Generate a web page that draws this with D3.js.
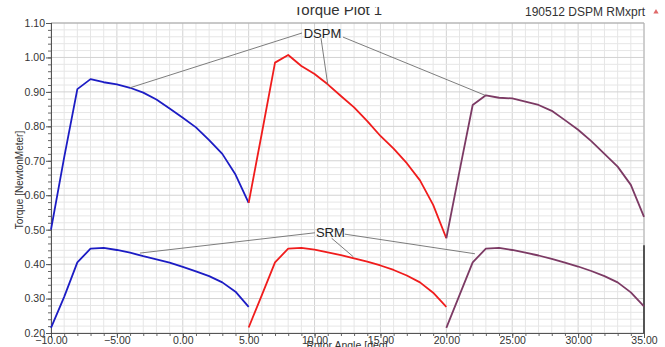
<!DOCTYPE html>
<html>
<head>
<meta charset="utf-8">
<script src="https://cdn.jsdelivr.net/npm/d3@7"></script>
<style>
  body { margin: 0; background: #fff; }
  svg { font-family: "Liberation Sans", Arial, sans-serif; }
</style>
</head>
<body>
<svg id="torque_plot" width="665" height="347"></svg>
<script>
// rotor angle for each of the three phases
const anglesA = [-10,-9,-8,-7,-6,-5,-4,-3,-2,-1,0,1,2,3,4,5];
const anglesB = [5,6,7,8,9,10,11,12,13,14,15,16,17,18,19,20];
const anglesC = [20,21,22,23,24,25,26,27,28,29,30,31,32,33,34,35];

// DSPM torque
const dspmA = [0.50,0.71,0.908,0.937,0.928,0.922,0.912,0.898,0.878,0.852,0.825,0.797,0.760,0.720,0.660,0.578];
const dspmB = [0.578,0.780,0.985,1.007,0.975,0.952,0.922,0.888,0.855,0.815,0.772,0.735,0.693,0.643,0.572,0.475];
const dspmC = [0.475,0.670,0.862,0.890,0.883,0.881,0.872,0.862,0.845,0.818,0.790,0.757,0.720,0.683,0.630,0.537];

// SRM torque
const srmA = [0.215,0.305,0.405,0.445,0.447,0.441,0.433,0.423,0.414,0.404,0.392,0.379,0.365,0.347,0.320,0.276];
const srmB = [0.216,0.310,0.405,0.445,0.447,0.442,0.434,0.426,0.417,0.407,0.396,0.383,0.367,0.347,0.317,0.276];
const srmC = [0.215,0.310,0.405,0.445,0.447,0.441,0.433,0.425,0.415,0.404,0.393,0.380,0.365,0.347,0.318,0.277];

const phaseColors = ["#1c1cc4", "#f01c1c", "#7c3a64"];

const xTicks = [-10,-5,0,5,10,15,20,25,30,35];
const yTicks = [0.2,0.3,0.4,0.5,0.6,0.7,0.8,0.9,1.0,1.1];

// annotation labels and leader lines, [angle, torque]
const dspmLabel = [10.6, 1.071];
const dspmFrom = [[9.05,1.071],[10.49,1.056],[12.16,1.059]];
const dspmTo = [[-4.0,0.912],[11.0,0.922],[22.95,0.890]];
const srmLabel = [11.2, 0.491];
const srmFrom = [[10.03,0.491],[11.3,0.475],[12.3,0.487]];
const srmTo = [[-3.25,0.432],[12.95,0.421],[22.17,0.43]];

function Draw_torque_plot(){
    const svg = d3.select("#torque_plot");
    const left = 51, right = 644, top = 23, bottom = 333;

    const x = d3.scaleLinear().domain([-10, 35]).range([left, right]);
    const y = d3.scaleLinear().domain([0.2, 1.1]).range([bottom, top]);

    // grid
    const grid = svg.append("g");
    const minorX = x.ticks(45), minorY = y.ticks(45);
    grid.selectAll(".gx").data(minorX).enter().append("line")
        .attr("x1", d => x(d)).attr("x2", d => x(d))
        .attr("y1", top).attr("y2", bottom)
        .attr("stroke", d => (Math.abs(d % 5) < 1e-6) ? "#d2d2d2" : "#e6e6e6");
    grid.selectAll(".gy").data(minorY).enter().append("line")
        .attr("x1", left).attr("x2", right)
        .attr("y1", d => y(d)).attr("y2", d => y(d))
        .attr("stroke", d => (Math.abs(Math.round(d * 10) - d * 10) < 1e-6) ? "#d2d2d2" : "#e6e6e6");

    // frame top / right
    svg.append("line").attr("x1", left).attr("x2", right).attr("y1", top).attr("y2", top)
        .attr("stroke", "#a8a8a8");
    svg.append("line").attr("x1", right).attr("x2", right).attr("y1", top).attr("y2", bottom)
        .attr("stroke", "#b4b4b4");
    svg.append("line").attr("x1", x(35)).attr("x2", x(35)).attr("y1", y(0.455)).attr("y2", bottom)
        .attr("stroke", "#222").attr("stroke-width", 1.4);

    // axes
    const axisX = svg.append("g").attr("transform", `translate(0,${bottom})`);
    axisX.call(d3.axisBottom(x).tickValues(minorX).tickSize(3).tickFormat(""));
    axisX.call(g => g.selectAll(".tick line").attr("stroke", "#666"));
    const axisXMajor = svg.append("g").attr("transform", `translate(0,${bottom})`)
        .call(d3.axisBottom(x).tickValues(xTicks).tickSize(5).tickPadding(-1).tickFormat(d3.format(".2f")));
    axisXMajor.select(".domain").attr("stroke", "#555");
    axisXMajor.selectAll(".tick line").attr("stroke", "#555");
    axisXMajor.selectAll("text").attr("font-size", 10.5).attr("fill", "#333")
        .attr("font-family", "Liberation Sans, Arial, sans-serif");

    const axisY = svg.append("g").attr("transform", `translate(${left},0)`);
    axisY.call(d3.axisLeft(y).tickValues(minorY).tickSize(3).tickFormat(""));
    axisY.call(g => g.selectAll(".tick line").attr("stroke", "#666"));
    const axisYMajor = svg.append("g").attr("transform", `translate(${left},0)`)
        .call(d3.axisLeft(y).tickValues(yTicks).tickSize(5).tickPadding(1).tickFormat(d3.format(".2f")));
    axisYMajor.select(".domain").attr("stroke", "#555");
    axisYMajor.selectAll(".tick line").attr("stroke", "#555");
    axisYMajor.selectAll("text").attr("font-size", 10.5).attr("fill", "#333")
        .attr("font-family", "Liberation Sans, Arial, sans-serif");

    // curves
    const line = d3.line().x(d => x(d[0])).y(d => y(d[1]));
    const series = [
        [anglesA, dspmA, 0], [anglesB, dspmB, 1], [anglesC, dspmC, 2],
        [anglesA, srmA, 0], [anglesB, srmB, 1], [anglesC, srmC, 2]
    ];
    series.forEach(s => {
        svg.append("path")
            .datum(d3.zip(s[0], s[1]))
            .attr("class", "line")
            .attr("d", line)
            .attr("fill", "none")
            .attr("stroke-width", 1.8)
            .attr("stroke-linejoin", "round")
            .style("stroke", phaseColors[s[2]]);
    });

    // annotations
    const notes = [[dspmFrom, dspmTo, dspmLabel, "DSPM"], [srmFrom, srmTo, srmLabel, "SRM"]];
    notes.forEach(n => {
        n[0].forEach((f, i) => {
            svg.append("line")
                .attr("x1", x(f[0])).attr("y1", y(f[1]))
                .attr("x2", x(n[1][i][0])).attr("y2", y(n[1][i][1]))
                .attr("stroke", "#6e6e6e").attr("stroke-width", 0.9);
        });
        svg.append("text")
            .attr("x", x(n[2][0])).attr("y", y(n[2][1]))
            .attr("dy", "0.35em")
            .attr("text-anchor", "middle")
            .attr("font-size", 13)
            .attr("fill", "#222")
            .text(n[3]);
    });

    // title (top edge cut off)
    svg.append("clipPath").attr("id", "titleClip")
        .append("rect").attr("x", 0).attr("y", 7).attr("width", 665).attr("height", 20);
    svg.append("text")
        .attr("clip-path", "url(#titleClip)")
        .attr("x", 338).attr("y", 15)
        .attr("text-anchor", "middle")
        .attr("font-size", 15)
        .attr("fill", "#333")
        .text("Torque Plot 1");

    svg.append("text")
        .attr("x", 645).attr("y", 16)
        .attr("text-anchor", "end")
        .attr("font-size", 12)
        .attr("fill", "#333")
        .text("190512 DSPM RMxprt");
    svg.append("path")
        .attr("d", d3.symbol(d3.symbolTriangle, 12))
        .attr("transform", "translate(656,12)")
        .attr("fill", "#e06a6a");

    // axis labels
    svg.append("text")
        .attr("text-anchor", "middle")
        .attr("x", -180)
        .attr("y", 23)
        .attr("transform", "rotate(-90)")
        .attr("font-size", 10)
        .attr("fill", "#333")
        .text("Torque [NewtonMeter]");
    svg.append("text")
        .attr("text-anchor", "middle")
        .attr("x", 347)
        .attr("y", 349)
        .attr("font-size", 10.5)
        .attr("fill", "#333")
        .text("Rotor Angle [deg]");
}

Draw_torque_plot();
</script>
</body>
</html>
